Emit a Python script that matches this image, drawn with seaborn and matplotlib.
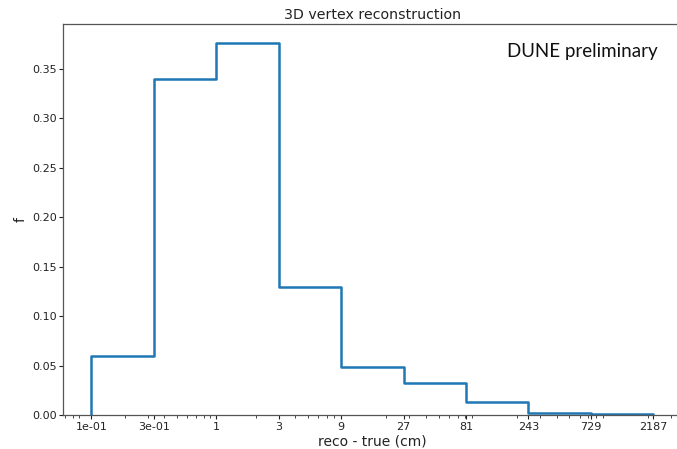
import numpy as np
import pandas as pd
import matplotlib
matplotlib.use("Agg")
import matplotlib.pyplot as plt
import seaborn as sns

# Bin edges (cm) on a base-3 ladder and the fraction of events in each bin
bin_edges = [1 / 9, 1 / 3, 1, 3, 9, 27, 81, 243, 729, 2187]
fractions = [0.0597, 0.340, 0.376, 0.129, 0.048, 0.032, 0.0135, 0.002, 0.0006]
tick_labels = ["1e-01", "3e-01", "1", "3", "9", "27", "81", "243", "729", "2187"]
y_ticks = [0.00, 0.05, 0.10, 0.15, 0.20, 0.25, 0.30, 0.35]

edges = np.array(bin_edges)
centers = np.sqrt(edges[:-1] * edges[1:])
df = pd.DataFrame({"dist": centers, "f": fractions})

sns.set_style("ticks")
plt.rcParams["font.family"] = ["DejaVu Sans"]

fig = plt.figure(figsize=(6.77, 4.49), dpi=100)
ax = fig.add_axes([63.3 / 677, 34 / 449, 618 / 677, 390.7 / 449])

# histplot bins in log10 space when log_scale is on
log_bins = [float(v) for v in np.log10(edges)]
sns.histplot(
    data=df, x="dist", weights="f", bins=log_bins, log_scale=True,
    element="step", fill=False, stat="count", color="#1f77b4",
    linewidth=1.8, ax=ax,
)

# close the outline down to zero at both outer edges, like a step histogram
step_line = ax.lines[-1]
xs, ys = step_line.get_data()
xs = np.concatenate([[xs[0]], xs, [xs[-1]]])
ys = np.concatenate([[0.0], ys, [0.0]])
step_line.set_data(xs, ys)

ax.set_xticks(bin_edges)
ax.set_xticklabels(tick_labels)
ax.set_yticks(y_ticks)
ax.set_yticklabels([f"{v:.2f}" for v in y_ticks])
ax.set_ylim(0, max(fractions) * 1.05)
lo, hi = np.log10(edges[0]), np.log10(edges[-1])
pad = 0.05 * (hi - lo)
ax.set_xlim(10 ** (lo - pad), 10 ** (hi + pad))

ax.tick_params(axis="both", labelsize=8, colors="#222222", length=3, width=0.8, pad=1.8)
ax.tick_params(axis="x", which="minor", length=1.8, width=0.6)
for side in ["left", "bottom", "top", "right"]:
    ax.spines[side].set_visible(True)
    ax.spines[side].set_color("#555555")
    ax.spines[side].set_linewidth(0.9)

ax.set_xlabel("reco - true (cm)", fontsize=10, color="#222222", labelpad=2)
ax.set_ylabel("f", fontsize=10, color="#222222", labelpad=3)
ax.set_title("3D vertex reconstruction", fontsize=10.2, color="#222222", pad=4)

fig.text(658 / 677, 1 - 52 / 449, "DUNE preliminary", ha="right", va="center",
         fontsize=13.5, family=["Lato", "DejaVu Sans"], color="#111111")

fig.savefig("out.png", dpi=100)
